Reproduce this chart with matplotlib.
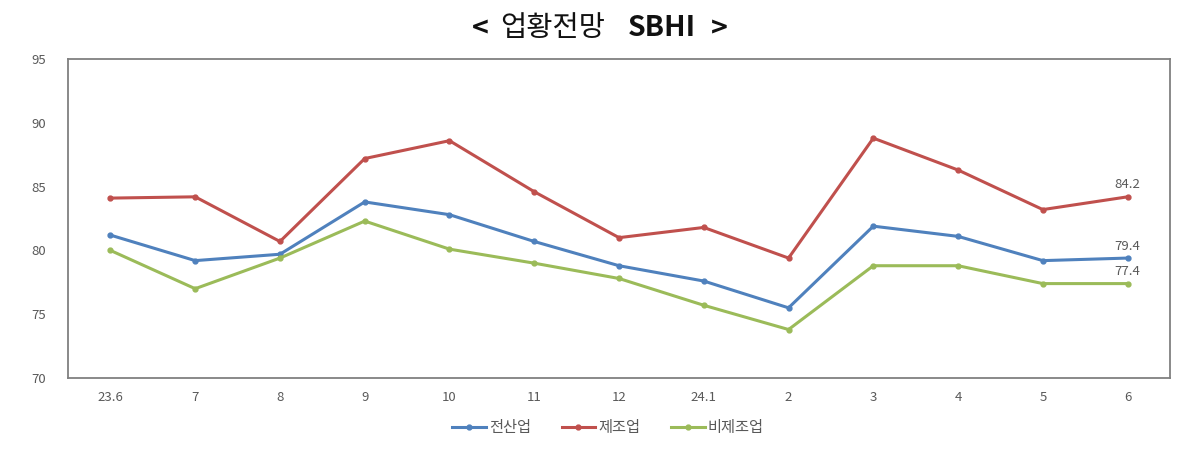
import matplotlib.pyplot as plt

plt.rcParams['font.family'] = ['Noto Sans CJK KR', 'DejaVu Sans']

MONTHS = ["23.6", "7", "8", "9", "10", "11", "12", "24.1", "2", "3", "4", "5", "6"]
ALL_INDUSTRY = [81.2, 79.2, 79.7, 83.8, 82.8, 80.7, 78.8, 77.6, 75.5, 81.9, 81.1, 79.2, 79.4]
MANUFACTURING = [84.1, 84.2, 80.7, 87.2, 88.6, 84.6, 81.0, 81.8, 79.4, 88.8, 86.3, 83.2, 84.2]
NON_MANUFACTURING = [80.0, 77.0, 79.4, 82.3, 80.1, 79.0, 77.8, 75.7, 73.8, 78.8, 78.8, 77.4, 77.4]

SERIES = [
    ("전산업", ALL_INDUSTRY, "#4F81BD"),
    ("제조업", MANUFACTURING, "#C0504D"),
    ("비제조업", NON_MANUFACTURING, "#9BBB59"),
]
TEXT_GREY = "#595959"

fig = plt.figure(figsize=(12, 4.74), dpi=100)
ax = fig.add_axes([0.0567, 0.2025, 0.9183, 0.673])

x = list(range(len(MONTHS)))
for name, values, color in SERIES:
    ax.plot(x, values, color=color, lw=2.2, marker="o", ms=3.5, label=name)
    ax.annotate(f"{values[-1]:.1f}", (x[-1], values[-1]), xytext=(0, 4),
                textcoords="offset points", ha="center", va="bottom",
                fontsize=9.5, color=TEXT_GREY)

ax.set_xlim(-0.5, len(MONTHS) - 0.5)
ax.set_ylim(70, 95)
ax.set_yticks([70, 75, 80, 85, 90, 95])
ax.set_xticks(x)
ax.set_xticklabels(MONTHS)
ax.tick_params(axis="both", length=0, labelsize=9.5, colors=TEXT_GREY)
ax.tick_params(axis="y", pad=16)
ax.tick_params(axis="x", pad=9)
for sp in ax.spines.values():
    sp.set_color("#808080")
    sp.set_linewidth(1.3)

ax.legend(loc="upper center", bbox_to_anchor=(0.49, -0.085), ncol=3, frameon=False,
          fontsize=11, labelcolor=TEXT_GREY, handlelength=2.2, handletextpad=0.2,
          columnspacing=2.0)

# title pieces: "<" and "SBHI >" bold, Korean part regular
title_y = 0.94
fig.text(0.393, title_y, "<", ha="left", va="center", fontsize=20.5,
         fontweight="bold", color="#111111")
fig.text(0.417, title_y, "업황전망", ha="left", va="center", fontsize=20.5,
         color="#111111")
fig.text(0.523, title_y, "SBHI", ha="left", va="center", fontsize=20.5,
         fontweight="bold", color="#111111")
fig.text(0.592, title_y, ">", ha="left", va="center", fontsize=20.5,
         fontweight="bold", color="#111111")

fig.savefig("out.png", dpi=100, facecolor="white")
